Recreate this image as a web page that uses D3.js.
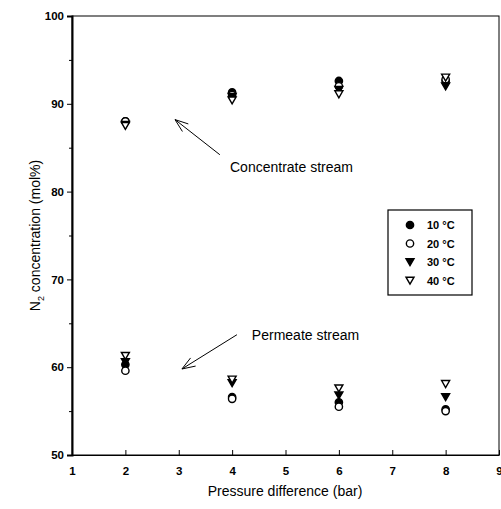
<!DOCTYPE html>
<html>
<head>
<meta charset="utf-8">
<script src="https://cdn.jsdelivr.net/npm/d3@7"></script>
<style>
  body { margin: 0; background: #fff; }
  svg { display: block; font-family: "Liberation Sans", Arial, sans-serif; }
</style>
</head>
<body>
<script>
"use strict";

// Data
const pressure = [2, 4, 6, 8];
const conc10 = [88.0, 91.3, 92.6, 92.6];
const conc20 = [88.0, 91.0, 92.0, 92.8];
const conc30 = [87.6, 90.8, 91.6, 92.0];
const conc40 = [87.5, 90.4, 91.1, 93.0];
const perm10 = [60.3, 56.6, 56.0, 55.2];
const perm20 = [59.6, 56.4, 55.5, 55.0];
const perm30 = [60.6, 58.2, 56.8, 56.6];
const perm40 = [61.3, 58.6, 57.6, 58.1];
const seriesLabels = ["10 °C", "20 °C", "30 °C", "40 °C"];
const xTicks = [1, 2, 3, 4, 5, 6, 7, 8, 9];
const yTicks = [50, 60, 70, 80, 90, 100];
const yMinor = [55, 65, 75, 85, 95];

const w = 501;
const h = 509;

const svg = d3.select("body").append("svg").attr("width", w).attr("height", h);

const x = d3.scaleLinear().domain([1, 9]).range([72, 499]);
const y = d3.scaleLinear().domain([50, 100]).range([455, 16]);

// frame
svg.append("rect")
  .attr("x", x(1)).attr("y", y(100))
  .attr("width", x(9) - x(1)).attr("height", y(50) - y(100))
  .attr("fill", "none").attr("stroke", "#000").attr("stroke-width", 1);

// y axis
const yAxis = d3.axisLeft(y).tickValues(yTicks).tickSize(5).tickPadding(3);
const gy = svg.append("g").attr("transform", `translate(${x(1)},0)`).call(yAxis);
gy.select(".domain").attr("stroke-width", 2);
gy.selectAll("text").attr("font-size", 11.5).attr("font-weight", "bold");
svg.append("g").attr("transform", `translate(${x(1)},0)`)
  .call(d3.axisLeft(y).tickValues(yMinor).tickSize(3).tickFormat(""))
  .select(".domain").remove();

// x axis (inner ticks)
const xAxis = d3.axisBottom(x).tickValues(xTicks).tickSizeInner(-5).tickSizeOuter(0).tickPadding(12);
const gx = svg.append("g").attr("transform", `translate(0,${y(50)})`).call(xAxis);
gx.selectAll("text").attr("font-size", 11.5).attr("font-weight", "bold");

// axis titles
svg.append("text")
  .attr("x", 285).attr("y", 496)
  .attr("text-anchor", "middle").attr("font-size", 14)
  .text("Pressure difference (bar)");

const yt = svg.append("text")
  .attr("transform", `translate(40,${(y(50) + y(100)) / 2}) rotate(-90)`)
  .attr("text-anchor", "middle").attr("font-size", 14);
yt.append("tspan").text("N");
yt.append("tspan").attr("font-size", 9).attr("dy", 4).text("2");
yt.append("tspan").attr("dy", -4).text(" concentration (mol%)");

// markers
const styles = [
  { type: d3.symbolCircle, size: 42, fill: "#000", rot: 0 },
  { type: d3.symbolCircle, size: 42, fill: "#fff", rot: 0 },
  { type: d3.symbolTriangle, size: 28, fill: "#000", rot: 180 },
  { type: d3.symbolTriangle, size: 28, fill: "#fff", rot: 180 },
];
const conc = [conc10, conc20, conc30, conc40];
const perm = [perm10, perm20, perm30, perm40];

const plot = svg.append("g");
styles.forEach((s, i) => {
  const sym = d3.symbol().type(s.type).size(s.size);
  [conc[i], perm[i]].forEach((vals) => {
    plot.append("g").selectAll("path")
      .data(vals.map((v, j) => [pressure[j], v]))
      .join("path")
      .attr("d", sym)
      .attr("transform", (d) => `translate(${x(d[0])},${y(d[1]) + (s.rot ? -1 : 0)}) rotate(${s.rot})`)
      .attr("fill", s.fill)
      .attr("stroke", "#000")
      .attr("stroke-width", 1.4);
  });
});

// legend
const legend = svg.append("g");
legend.append("rect")
  .attr("x", 388).attr("y", 210).attr("width", 84).attr("height", 85)
  .attr("fill", "#fff").attr("stroke", "#000").attr("stroke-width", 1.2);
seriesLabels.forEach((lab, i) => {
  const ly = 225 + i * 18.5;
  const s = styles[i];
  legend.append("path")
    .attr("d", d3.symbol().type(s.type).size(s.size)())
    .attr("transform", `translate(410,${ly + (s.rot ? -1 : 0)}) rotate(${s.rot})`)
    .attr("fill", s.fill).attr("stroke", "#000").attr("stroke-width", 1.4);
  legend.append("text")
    .attr("x", 427).attr("y", ly + 4)
    .attr("font-size", 11).attr("font-weight", "bold")
    .text(lab);
});

// annotations with open arrowheads
const arrow = (x0, y0, x1, y1) => {
  const px0 = x(x0), py0 = y(y0), px1 = x(x1), py1 = y(y1);
  const ang = Math.atan2(py0 - py1, px0 - px1);
  const len = 14, spread = 0.35;
  const g = svg.append("g").attr("stroke", "#000").attr("stroke-width", 1).attr("fill", "none");
  g.append("line").attr("x1", px0).attr("y1", py0).attr("x2", px1).attr("y2", py1);
  [-spread, spread].forEach((a) => {
    g.append("line")
      .attr("x1", px1).attr("y1", py1)
      .attr("x2", px1 + len * Math.cos(ang + a))
      .attr("y2", py1 + len * Math.sin(ang + a));
  });
};

arrow(3.77, 84.2, 2.93, 88.2);
svg.append("text").attr("x", x(3.96)).attr("y", y(82.2))
  .attr("font-size", 14).text("Concentrate stream");

arrow(4.09, 63.7, 3.06, 59.8);
svg.append("text").attr("x", x(4.37)).attr("y", y(63.1))
  .attr("font-size", 14).text("Permeate stream");
</script>
</body>
</html>
